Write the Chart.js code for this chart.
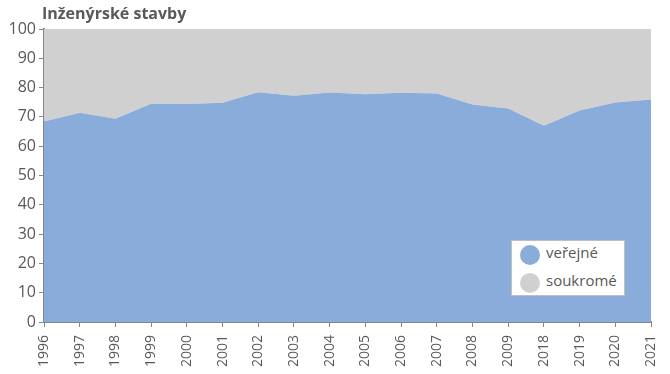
<!DOCTYPE html>
<html>
<head>
<meta charset="utf-8">
<script src="https://cdn.jsdelivr.net/npm/chart.js@4/dist/chart.umd.min.js"></script>
<style>
    body { margin: 0; background: #fff; }
    #wrap { position: relative; width: 670px; height: 374px; font-family: "Open Sans", sans-serif; color: #595959; }
    #title { position: absolute; left: 42px; top: 2px; font-weight: bold; font-size: 16px; }
    #legend { position: absolute; left: 511px; top: 240px; width: 114px; height: 56px; background: #fff; border: 1px solid #bfbfbf; box-sizing: border-box; font-size: 15px; }
    #legend div { position: absolute; left: 34px; }
    #legend span { position: absolute; left: -26px; top: 3px; width: 20px; height: 20px; border-radius: 50%; }
</style>
</head>
<body>
<div id="wrap">
    <canvas id="chart" width="670" height="374"></canvas>
    <div id="title">Inženýrské stavby</div>
    <div id="legend">
        <div style="top:1px"><span style="background:#8aacdb"></span>veřejné</div>
        <div style="top:29px"><span style="background:#d0d0d0"></span>soukromé</div>
    </div>
</div>
<script>
const years = ['1996', '1997', '1998', '1999', '2000', '2001', '2002', '2003', '2004',
    '2005', '2006', '2007', '2008', '2009', '2018', '2019', '2020', '2021'];
const verejne = [68.4, 71.4, 69.4, 74.5, 74.4, 74.8, 78.4, 77.2, 78.3,
    77.7, 78.2, 78.0, 74.2, 72.9, 67.0, 72.2, 74.9, 75.9];
const soukrome = verejne.map(v => +(100 - v).toFixed(1));
const yTicks = [0, 10, 20, 30, 40, 50, 60, 70, 80, 90, 100];

const axisColor = '#868686';
const textColor = '#595959';

const ctx = document.getElementById('chart').getContext('2d');
const chart = new Chart(ctx, {
    type: 'line',
    data: {
        labels: years,
        datasets: [{
            label: 'veřejné',
            data: verejne,
            backgroundColor: '#8aacdb',
            borderWidth: 0,
            pointRadius: 0,
            tension: 0,
            fill: 'origin'
        },
        {
            label: 'soukromé',
            data: soukrome,
            backgroundColor: '#d0d0d0',
            borderWidth: 0,
            pointRadius: 0,
            tension: 0,
            fill: '-1'
        }]
    },
    options: {
        responsive: false,
        animation: false,
        layout: { padding: { top: 29, right: 0, left: 0, bottom: 0 } },
        plugins: { legend: { display: false }, tooltip: { enabled: false } },
        scales: {
            x: {
                offset: false,
                grid: { display: true, drawOnChartArea: false, color: axisColor, tickLength: 5 },
                border: { color: axisColor, width: 2 },
                ticks: {
                    color: textColor, font: { family: 'Open Sans', size: 14 },
                    maxRotation: 90, minRotation: 90, autoSkip: false, padding: 8
                },
                afterFit: (scale) => {
                    scale.height = 52;
                    scale.paddingRight = 19;
                    scale.paddingLeft = 0;
                }
            },
            y: {
                stacked: true,
                min: 0, max: 100,
                grid: { display: true, drawOnChartArea: false, color: axisColor, tickLength: 5 },
                border: { color: axisColor, width: 2 },
                ticks: {
                    color: textColor, font: { family: 'Open Sans', size: 16 },
                    stepSize: 10, padding: 3
                },
                afterBuildTicks: (scale) => { scale.ticks = yTicks.map(v => ({ value: v })); },
                afterFit: (scale) => { scale.width = 44; }
            }
        }
    }
});
</script>
</body>
</html>
